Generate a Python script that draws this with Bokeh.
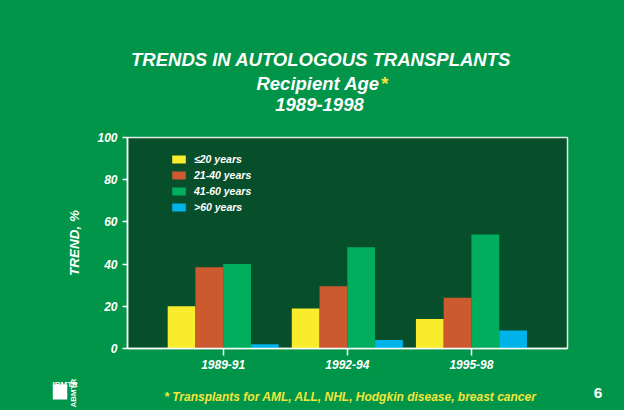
import math
from bokeh.plotting import figure
from bokeh.layouts import column, row
from bokeh.models import ColumnDataSource, Range1d, FixedTicker, Legend, LegendItem, Label
from bokeh.transform import dodge
from bokeh.embed import file_html
from bokeh.resources import INLINE

# ---- data ----
periods = ["1989-91", "1992-94", "1995-98"]
series_names = ["\u226420 years", "21-40 years", "41-60 years", ">60 years"]
le20 = [20, 19, 14]
age21_40 = [38.5, 29.5, 24]
age41_60 = [40, 48, 54]
gt60 = [2, 4, 8.5]
y_ticks = [0, 20, 40, 60, 80, 100]

# ---- style ----
BG = "#009548"
PLOT_BG = "#074F2B"
COLORS = ["#F8EC2C", "#CB5A2F", "#00AE5D", "#00B3EA"]
FOOT_YELLOW = "#F2E63C"
FONT = "Liberation Sans"
W = 624
LEFT, RIGHT = 127, 57          # page x of frame edges: 127 .. 567
MID = W - LEFT - RIGHT
H_HEAD, H_MAIN, H_FOOT = 120, 255, 35
GREEN_BOX = {"background-color": BG}

# ---------------- main chart ----------------
src = ColumnDataSource(dict(
    x=list(range(len(periods))),
    s0=le20, s1=age21_40, s2=age41_60, s3=gt60,
))

p = figure(width=W, height=H_MAIN, output_backend="svg", toolbar_location=None,
           x_range=Range1d(-0.771, 2.774), y_range=Range1d(0, 100),
           min_border_left=LEFT, min_border_right=RIGHT, min_border_top=17, min_border_bottom=27)
p.background_fill_color = PLOT_BG
p.border_fill_color = BG
p.outline_line_color = "#dfeee3"
p.outline_line_width = 1.5
p.grid.visible = False

w = 0.2236
offsets = [-1.5 * w, -0.5 * w, 0.5 * w, 1.5 * w]
renderers = []
for i, col in enumerate(["s0", "s1", "s2", "s3"]):
    r = p.vbar(x=dodge("x", offsets[i]), top=col, width=w, source=src,
               fill_color=COLORS[i], line_color=None)
    renderers.append(r)

p.xaxis.ticker = FixedTicker(ticks=list(range(len(periods))))
p.xaxis.major_label_overrides = {i: lab for i, lab in enumerate(periods)}
p.yaxis.ticker = FixedTicker(ticks=y_ticks)
for ax in (p.xaxis[0], p.yaxis[0]):
    ax.axis_line_color = "white"
    ax.axis_line_width = 1.5
    ax.major_tick_line_color = "white"
    ax.major_tick_line_width = 1.5
    ax.minor_tick_line_color = None
    ax.major_tick_in = 0
    ax.major_label_text_color = "white"
    ax.major_label_text_font = FONT
    ax.major_label_text_font_style = "bold italic"
    ax.major_label_text_font_size = "12px"
p.xaxis.major_tick_out = 7
p.xaxis.major_label_standoff = 4
p.yaxis.major_tick_out = 5
p.yaxis.major_label_standoff = 5
p.yaxis.axis_label = "TREND, %"
p.yaxis.axis_label_text_color = "white"
p.yaxis.axis_label_text_font = FONT
p.yaxis.axis_label_text_font_style = "bold italic"
p.yaxis.axis_label_text_font_size = "13.5px"
p.yaxis.axis_label_standoff = 12

items = [LegendItem(label=series_names[i], renderers=[renderers[i]]) for i in range(4)]
legend = Legend(items=items, location=(43, 133), padding=0, margin=0, spacing=0,
                glyph_width=17, glyph_height=10, label_height=16, label_standoff=7,
                label_text_color="white", label_text_font=FONT,
                label_text_font_style="bold italic", label_text_font_size="10.5px",
                background_fill_alpha=0, border_line_color=None)
p.add_layout(legend, "center")


# ---------------- text strips (coordinates = page pixels) ----------------
def strip(width, height, x0, top):
    f = figure(width=width, height=height, output_backend="svg", toolbar_location=None,
               x_range=Range1d(x0, x0 + width), y_range=Range1d(top + height, top),
               x_axis_type=None, y_axis_type=None, min_border=0, styles=GREEN_BOX)
    f.background_fill_color = BG
    f.border_fill_color = BG
    f.outline_line_color = None
    return f

def lab(fig, text, x, y, size, color="white", style="bold italic", align="center",
        baseline="alphabetic", **kw):
    fig.add_layout(Label(text=text, x=x, y=y, text_font=FONT, text_font_style=style,
                         text_font_size=size, text_color=color, text_align=align,
                         text_baseline=baseline, **kw))

head_left = strip(LEFT, H_HEAD, 0, 0)
head = strip(MID, H_HEAD, LEFT, 0)
head_right = strip(RIGHT, H_HEAD, W - RIGHT, 0)
lab(head, "TRENDS IN AUTOLOGOUS TRANSPLANTS", 320.5, 59.3, "18.5px")
lab(head, "Recipient Age", 379.3, 82.7, "18.5px", align="right")
lab(head, "*", 380, 82.7, "18.5px", color=FOOT_YELLOW, align="left")
lab(head, "1989-1998", 319, 104, "18.5px")

ftop = H_HEAD + H_MAIN
foot_logo = strip(LEFT, H_FOOT, 0, ftop)
foot_mid = strip(MID, H_FOOT, LEFT, ftop)
foot_num = strip(RIGHT, H_FOOT, W - RIGHT, ftop)

lab(foot_mid, "* Transplants for AML, ALL, NHL, Hodgkin disease, breast cancer", 350, 396.5,
    "12px", color=FOOT_YELLOW)
lab(foot_num, "6", 597.5, 392.7, "15.5px", style="bold")
# small IBMTR / ABMTR logo
lab(foot_logo, "\u00a0\u00a0\u00a0\u00a0", 52.3, 384, "13px", style="normal", align="left",
    baseline="top", background_fill_color="white")
lab(foot_logo, "IBMTR", 52, 383.5, "8px", style="bold", align="left")
lab(foot_logo, "ABMTR", 72.5, 407, "8px", style="bold", align="left", baseline="middle",
    angle=math.pi / 2)

layout = column(row(head_left, head, head_right, spacing=0, styles=GREEN_BOX),
                p,
                row(foot_logo, foot_mid, foot_num, spacing=0, styles=GREEN_BOX),
                spacing=0, styles=GREEN_BOX)
open("out.html", "w").write(file_html(layout, INLINE))
